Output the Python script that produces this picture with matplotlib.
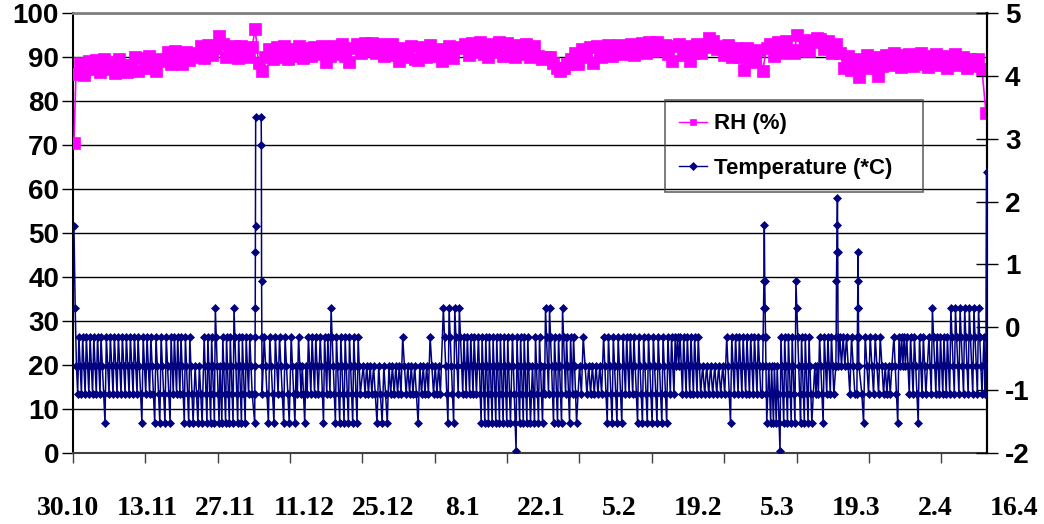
import numpy as np
import matplotlib
matplotlib.use("Agg")
import matplotlib.pyplot as plt
import matplotlib.transforms as mtransforms

plt.rcParams['font.family'] = ['Liberation Sans', 'DejaVu Sans']
plt.rcParams['font.weight'] = 'bold'
plt.rcParams['axes.unicode_minus'] = False

# ---------------- labels / ticks ----------------
date_labels = ["30.10", "13.11", "27.11", "11.12", "25.12", "8.1", "22.1",
               "5.2", "19.2", "5.3", "19.3", "2.4", "16.4"]
left_ticks = [0, 10, 20, 30, 40, 50, 60, 70, 80, 90, 100]
right_ticks = [-2, -1, 0, 1, 2, 3, 4, 5]
legend_labels = ["RH (%)", "Temperature (*C)"]

# ---------------- RH (%) data: (first day, last day) of each run, values ----------------
rh_spans = [(0.18, 0.18), (0.55, 3.68), (4.23, 9.94), (10.67, 16.01), (16.74, 22.08),
            (22.82, 32.94), (33.49, 35.33), (36.07, 45.08), (45.82, 86.85), (87.59, 91.45),
            (92.19, 108.01), (108.75, 115.37), (116.11, 118.32), (119.05, 126.05),
            (126.78, 140.21), (140.95, 167.08), (167.81, 167.81)]
rh_01 = [70.5]
rh_02 = [86.2, 88.6, 85.9, 89.0, 87.3]
rh_03 = [89.4, 86.6, 89.6, 87.2, 88.9, 86.3, 89.5, 87.8, 86.7]
rh_04 = [88.1, 89.9, 86.8, 89.7, 87.5, 90.2, 88.0, 86.9, 89.6]
rh_05 = [89.2, 91.1, 88.4, 91.4, 89.6, 88.3, 91.2, 89.4, 90.9]
rh_06 = [90.1, 92.4, 89.8, 92.7, 90.4, 92.0, 94.8, 92.9, 89.9, 91.6, 92.6, 89.8, 92.5, 90.6, 90.1, 92.3]
rh_07 = [96.4, 88.6, 86.8, 89.9]
rh_08 = [91.8, 89.6, 92.2, 90.0, 92.4, 89.5, 91.9, 90.3, 92.6, 89.8, 92.0, 90.2, 92.3, 90.7]
rh_09 = [92.4, 88.9, 90.3, 92.6, 90.6, 92.9, 90.2, 88.8, 92.1,
         93.0, 91.0, 93.2, 91.3, 93.1, 90.8, 92.9, 90.2, 92.5, 93.0, 90.5,
         89.2, 92.0, 90.1, 92.5, 89.6, 89.3, 92.2, 90.0, 92.7, 90.2, 91.9, 89.1, 90.3, 92.4, 89.8, 92.1,
         92.3, 93.0, 90.5, 93.2, 91.1, 93.3, 90.7, 89.9, 92.9, 91.2, 93.3, 90.3, 93.1, 91.0, 89.9,
         92.8, 90.7, 93.0, 90.1, 92.5, 90.2, 89.6, 90.0]
rh_10 = [89.9, 88.6, 87.6, 86.8, 87.5, 88.5, 89.6]
rh_11 = [90.9, 88.4, 91.9, 90.0, 92.3, 88.7, 92.6, 90.1, 92.2, 92.7, 90.2, 92.4,
         92.8, 90.6, 92.5, 93.0, 90.5, 92.7, 93.2, 90.9, 93.4, 91.4, 93.5, 91.6]
rh_12 = [92.8, 90.7, 89.2, 92.5, 92.9, 90.5, 92.6, 89.1, 90.8, 93.0, 90.9]
rh_13 = [92.2, 94.3, 93.6, 91.9]
rh_14 = [92.6, 90.4, 92.8, 89.9, 92.1, 90.0, 87.0, 92.0, 89.8, 88.9, 91.7]
rh_15 = [86.9, 92.1, 92.9, 90.3, 93.3, 91.0, 93.6, 91.5, 90.8, 95.0,
         91.7, 93.8, 91.3, 93.4, 94.3, 94.1, 91.8, 93.6, 91.0, 92.9]
rh_16 = [91.0, 87.6, 90.2, 87.1, 89.6, 85.4, 87.8, 90.4, 87.4, 89.9, 85.7, 88.0, 90.5,
         88.1, 90.8, 88.7, 87.8, 90.4, 90.7, 88.0, 90.1, 90.9, 88.4, 87.7, 90.3, 90.6,
         88.2, 90.2, 87.5, 89.9, 90.7, 88.1, 90.0, 87.4, 89.6, 87.9, 89.5, 87.2]
rh_17 = [77.3]
rh_runs = [rh_01, rh_02, rh_03, rh_04, rh_05, rh_06, rh_07, rh_08, rh_09, rh_10,
           rh_11, rh_12, rh_13, rh_14, rh_15, rh_16, rh_17]

# ---------------- Temperature (*C) data ----------------
t_spans = [(0.18, 4.97), (5.15, 11.78), (11.96, 17.85), (18.03, 22.08), (22.45, 23.74),
           (24.11, 31.65), (31.83, 32.94), (33.40, 33.58), (34.59, 34.78), (35.15, 39.75),
           (40.11, 45.08), (45.45, 52.81), (53.36, 67.53), (68.08, 74.16), (74.52, 80.41),
           (80.78, 84.09), (84.46, 92.56), (93.11, 97.16), (97.53, 115.37), (115.74, 119.79),
           (120.16, 126.42), (126.70, 127.52), (127.89, 135.80), (136.35, 139.85),
           (140.22, 140.68), (140.95, 143.71), (144.08, 144.45), (145.00, 150.52),
           (150.89, 156.77), (157.33, 167.08), (167.45, 167.91)]
t_01 = [1.61, 0.30, -0.61, -1.06,
        -0.15, -0.61, -1.06, -0.15, -0.61, -1.06, -0.15, -0.61, -1.06,
        -0.15, -0.61, -1.06, -0.15, -0.61, -1.06, -0.15, -0.61, -1.06]
t_02 = [-0.15, -0.61, -1.06, -1.52,
        -0.15, -0.61, -1.06, -0.15, -0.61, -1.06, -0.15, -0.61, -1.06, -0.15, -0.61, -1.06,
        -0.15, -0.61, -1.06, -0.15, -0.61, -1.06, -0.15, -0.61, -1.06, -0.15, -0.61, -1.06]
t_03 = [-0.15, -0.61, -1.06, -1.52, -0.15, -0.61, -1.06, -0.15, -0.61, -1.06,
        -0.15, -0.61, -1.06, -1.52, -0.15, -0.61, -1.06, -1.52,
        -0.15, -0.61, -1.06, -1.52, -0.15, -0.61, -1.06, -1.52]
t_04 = [-0.15, -0.61, -1.06, -0.15, -0.61, -1.06, -0.15, -0.61, -1.06,
        -0.15, -0.61, -1.06, -1.52, -0.15, -0.61, -1.06, -1.52, -0.15, -0.61, -1.06, -1.52]
t_05 = [-0.61, -1.06, -1.52, -0.61, -1.06, -1.52]
t_06 = [-0.15, -0.61, -1.06, -1.52, -0.15, -0.61, -1.06, -1.52, -0.15, -0.61, -1.06, -1.52,
        0.30, -0.15, -0.61, -1.06, -1.52, -0.61, -1.06, -1.52,
        -0.15, -0.61, -1.06, -1.52, -0.15, -0.61, -1.06, -1.52, -0.15, -0.61, -1.06, -1.52,
        0.30, -0.15, -0.61, -1.06, -1.52,
        -0.15, -0.61, -1.06, -1.52, -0.15, -0.61, -1.06, -1.52]
t_07 = [-0.15, -0.61, -1.06, -0.15, -0.61, -1.06]
t_08 = [-1.52, -1.06, -0.61, -0.15, 0.30, 1.19, 1.61, 3.35]
t_09 = [3.35, 2.90, 0.74, -0.15, -0.61, -1.06]
t_10 = [-0.15, -0.61, -1.06, -1.52, -0.15, -0.61, -1.06, -1.52, -0.15, -0.61, -1.06,
        -0.15, -0.61, -1.06, -1.52, -0.15, -0.61, -1.06, -1.52]
t_11 = [-0.15, -0.61, -1.06, -1.52, -0.61, -1.06, -0.15, -0.61, -1.06,
        -0.61, -1.06, -1.52, -0.61, -1.06,
        -0.15, -0.61, -1.06, -0.15, -0.61, -1.06, -0.15, -0.61, -1.06]
t_12 = [-0.15, -0.61, -1.06, -1.52, -0.15, -0.61, -1.06, -0.15, -0.61, -1.06,
        0.30, -0.15, -0.61, -1.06, -1.52,
        -0.15, -0.61, -1.06, -1.52, -0.15, -0.61, -1.06, -1.52, -0.15, -0.61, -1.06, -1.52,
        -0.15, -0.61, -1.06, -1.52, -0.15, -0.61, -1.06, -1.52, -0.15, -0.61, -1.06]
t_13 = [-0.61, -1.06, -0.61, -1.06, -0.61, -1.06,
        -0.61, -1.06, -1.52, -0.61, -1.06, -1.52, -0.61, -1.06, -1.52,
        -0.61, -1.06, -0.61, -1.06, -0.61, -1.06, -0.61, -1.06,
        -0.15, -0.61, -1.06, -0.61, -1.06, -0.61, -1.06,
        -0.61, -1.06, -1.52, -0.61, -1.06, -0.61, -1.06, -0.61, -1.06,
        -0.15, -0.61, -1.06, -0.61, -1.06, -0.61, -1.06]
t_14 = [0.30, -0.15, -0.61, -1.06, -1.52, 0.30, -0.15, -0.61, -1.06, -1.52,
        0.30, -0.15, -0.61, -1.06, 0.30, -0.15, -0.61, -1.06,
        -0.15, -0.61, -1.06, -0.15, -0.61, -1.06, -0.15, -0.61, -1.06, -0.15, -0.61, -1.06]
t_15 = [-0.15, -0.61, -1.06, -1.52, -0.15, -0.61, -1.06, -1.52, -0.15, -0.61, -1.06, -1.52,
        -0.15, -0.61, -1.06, -1.52, -0.15, -0.61, -1.06, -1.52, -0.15, -0.61, -1.06, -1.52,
        -0.15, -0.61, -1.06, -1.52, -0.15, -0.61, -1.06, -1.52, -0.15, -0.61, -1.06, -1.52]
t_16 = [-0.15, -0.61, -1.06, -1.52, -1.97,
        -0.15, -0.61, -1.06, -1.52, -0.15, -0.61, -1.06, -1.52,
        -0.15, -0.61, -1.06, -1.52, -0.15, -0.61, -1.06, -1.52]
t_17 = [-0.61, -1.06, -1.52, -0.15, -0.61, -1.06, -1.52, -0.15, -0.61, -1.06, -1.52,
        -0.61, -1.06, 0.30, -0.15, -0.61, -1.06, 0.30, -0.15, -0.61, -1.06, -1.52,
        -0.15, -0.61, -1.06, -1.52, -0.15, -0.61, -1.06, -1.52, 0.30, -0.15, -0.61, -1.06,
        -0.15, -0.61, -1.06, -1.52, -0.15, -0.61, -1.06, -0.15, -0.61, -1.06, -1.52]
t_18 = [-0.61, -1.06, -0.15, -0.61, -1.06, -0.61, -1.06, -0.61, -1.06, -0.61, -1.06, -0.61, -1.06]
t_19 = [-0.15, -0.61, -1.06, -1.52, -0.15, -0.61, -1.06, -1.52, -0.15, -0.61, -1.06, -1.52,
        -0.15, -0.61, -1.06, -1.52, -0.15, -0.61, -1.06, -0.15, -0.61, -1.06, -0.15, -0.61, -1.06,
        -0.15, -0.61, -1.06, -1.52, -0.15, -0.61, -1.06, -1.52, -0.15, -0.61, -1.06, -1.52,
        -0.15, -0.61, -1.06, -1.52, -0.15, -0.61, -1.06, -1.52, -0.15, -0.61, -1.06, -1.52,
        -0.15, -0.61, -1.06, -1.52, -0.15, -0.61, -1.06, -0.15, -0.61, -1.06,
        -0.15, -0.61, -0.15, -0.61,
        -0.15, -0.61, -1.06, -0.15, -0.61, -1.06, -0.15, -0.61, -1.06,
        -0.15, -0.61, -1.06, -0.15, -0.61, -1.06, -0.15, -0.61, -1.06]
t_20 = [-0.61, -1.06, -0.61, -1.06, -0.61, -1.06, -0.61, -1.06, -0.61, -1.06, -0.61, -1.06]
t_21 = [-0.15, -0.61, -1.06, -1.52,
        -0.15, -0.61, -1.06, -0.15, -0.61, -1.06, -0.15, -0.61, -1.06, -0.15, -0.61, -1.06,
        -0.15, -0.61, -1.06, -0.15, -0.61, -1.06, -0.15, -0.61, -1.06, -0.15, -0.61, -1.06]
t_22 = [-1.06, -0.61, -0.15, 0.30, 0.74, 1.63, 0.74, 0.30, -0.15, -0.61, -1.06, -1.52]
t_23 = [-0.61, -1.06, -1.52, -0.61, -1.06, -1.52, -0.61, -1.06, -1.52,
        -0.61, -1.06, -1.52, -1.97,
        -0.15, -0.61, -1.06, -1.52, -0.15, -0.61, -1.06, -1.52,
        -0.15, -0.61, -1.06, -1.52, -0.15, -0.61, -1.06, -1.52,
        0.74, 0.30, -0.15, -0.61, -1.06, -1.52,
        -0.15, -0.61, -1.06, -1.52, -0.15, -0.61, -1.06, -1.52, -0.15, -0.61, -1.06, -1.52]
t_24 = [-0.61, -1.06, -0.61, -1.06, -0.15, -0.61, -1.06, -1.52,
        -0.15, -0.61, -1.06, -0.15, -0.61, -1.06, -0.15, -0.61, -1.06]
t_25 = [-0.61, -0.15, 0.74, 1.19, 1.63, 2.05, 1.19, -0.15, -0.61]
t_26 = [-0.15, -0.61, -0.15, -0.61, -0.15, -0.61, -1.06, -0.15, -0.61, -1.06]
t_27 = [-1.06, -0.61, -0.15, 0.30, 0.74, 1.19, 0.30, -0.15, -0.61]
t_28 = [-1.06, -1.52, -0.15, -0.61, -1.06, -0.15, -0.61, -1.06, -0.15, -0.61, -1.06,
        -0.15, -0.61, -1.06, -0.61, -1.06, -0.61, -1.06, -0.61]
t_29 = [-0.15, -0.61, -1.06, -1.52, -0.15, -0.61, -0.15, -0.61, -0.15, -0.61,
        -0.15, -0.61, -1.06, -0.15, -0.61, -1.06, -0.15, -0.61, -1.06, -1.52,
        -0.15, -0.61, -1.06, -0.15, -0.61, -1.06]
t_30 = [-0.15, -0.61, -1.06, 0.30, -0.15, -0.61, -1.06,
        -0.15, -0.61, -1.06, -0.15, -0.61, -1.06, -0.15, -0.61, -1.06, -0.15, -0.61, -1.06,
        0.30, -0.15, -0.61, -1.06, 0.30, -0.15, -0.61, -1.06, 0.30, -0.15, -0.61, -1.06,
        0.30, -0.15, -0.61, -1.06, 0.30, -0.15, -0.61, -1.06, 0.30, -0.15, -0.61, -1.06,
        0.30, -0.15, -0.61, -1.06]
t_31 = [-0.15, -0.61, -1.06, -0.61, 2.47]
t_runs = [t_01, t_02, t_03, t_04, t_05, t_06, t_07, t_08, t_09, t_10, t_11, t_12, t_13,
          t_14, t_15, t_16, t_17, t_18, t_19, t_20, t_21, t_22, t_23, t_24, t_25, t_26,
          t_27, t_28, t_29, t_30, t_31]


def build(spans, runs):
    xs, ys = [], []
    for (a, b), v in zip(spans, runs):
        xs.append(np.linspace(a, b, len(v)))
        ys.append(np.asarray(v, dtype=float))
    return np.concatenate(xs), np.concatenate(ys)


rh_x, rh_y = build(rh_spans, rh_runs)
t_x, t_y = build(t_spans, t_runs)

# ---------------- figure ----------------
fig = plt.figure(figsize=(10.44, 5.24), dpi=100)
ax = fig.add_axes([0.0699, 0.1355, 0.8755, 0.8397])
ax2 = ax.twinx()
ax.set_zorder(1)
ax2.set_zorder(2)
ax.patch.set_facecolor('white')
ax2.patch.set_visible(False)

rh_line, = ax.plot(rh_x, rh_y, color='#FF00FF', lw=1.2, marker='s', ms=8.5,
                   mfc='#FF00FF', mec='#FF00FF', mew=0.5, zorder=3)
t_line, = ax2.plot(t_x, t_y, color='#000080', lw=1.1, marker='D', ms=4.5,
                   mfc='#000080', mec='#000080', mew=0.5, zorder=3)

ax.set_xlim(0, 168)
ax.set_ylim(0, 100)
ax.set_yticks(left_ticks)
ax.yaxis.grid(True, color='black', lw=1.0)
ax.set_axisbelow(True)
ax2.set_ylim(-2, 5)
ax2.set_yticks(right_ticks)

# x ticks (one every ~13.3 days), labels placed separately
tick_days = [0.0, 13.3, 26.6, 39.9, 53.2, 66.5, 79.8, 93.1, 106.4, 119.7, 133.0, 146.3, 159.6]
ax.set_xticks(tick_days)
ax.set_xticklabels([])
ax.tick_params(axis='x', direction='out', length=7, width=1, color='#404040')
ax.tick_params(axis='y', direction='out', length=8, width=1, pad=2, labelsize=20)
ax2.tick_params(axis='y', direction='inout', length=16, width=1, pad=5, labelsize=20)
for lbl in ax.get_yticklabels() + ax2.get_yticklabels():
    lbl.set_fontweight('bold')
    lbl.set_family(['Liberation Sans', 'DejaVu Sans'])

for s in ['left', 'right']:
    ax.spines[s].set_color('black')
    ax.spines[s].set_linewidth(1.5)
ax.spines['bottom'].set_color('#404040')
ax.spines['bottom'].set_linewidth(1.5)
ax.spines['top'].set_color('#808080')
ax.spines['top'].set_linewidth(2)
for s in ['left', 'top', 'bottom']:
    ax2.spines[s].set_visible(False)
ax2.spines['right'].set_color('black')
ax2.spines['right'].set_linewidth(1.5)

# date labels below the plot
trans = mtransforms.blended_transform_factory(ax.transAxes, ax.transAxes)
for k, lab in enumerate(date_labels):
    xpos = (68 + 78.8 * k - 73) / 914.0
    ax.text(xpos, -0.127, lab, transform=trans, ha='center', va='center',
            fontsize=20, fontweight='bold', family=['Liberation Serif', 'DejaVu Serif'],
            clip_on=False)

leg = ax2.legend([rh_line, t_line], legend_labels, loc='upper left',
                 bbox_to_anchor=(0.648, 0.602, 0.282, 0.2), mode='expand',
                 borderaxespad=0, fancybox=False, borderpad=0.6, labelspacing=1.05,
                 handlelength=1.3, handletextpad=0.3,
                 prop={'weight': 'bold', 'size': 16, 'family': 'Liberation Sans'})
leg.get_frame().set_facecolor('none')
leg.get_frame().set_edgecolor('#404040')
leg.get_frame().set_linewidth(1.2)
for h in leg.legend_handles:
    h.set_markersize(4)
    h.set_linewidth(1.0)

fig.savefig('out.png', dpi=100)
